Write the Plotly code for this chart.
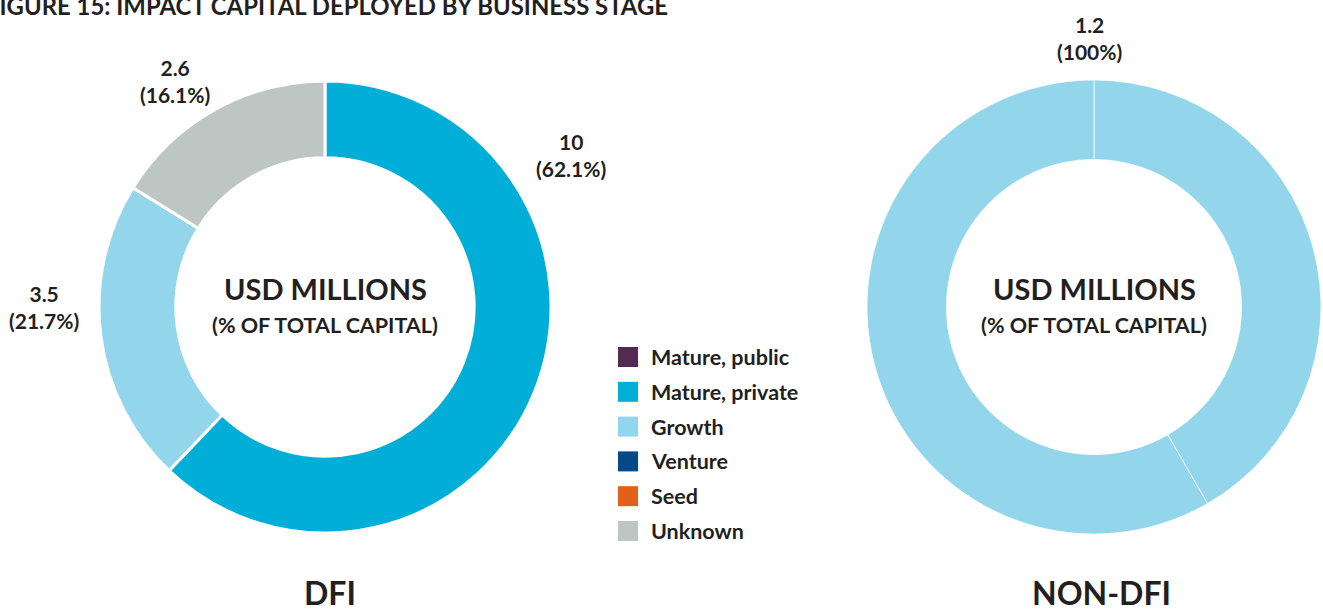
import plotly.graph_objects as go

W, H = 1323, 610

# ---- data ----
categories = ["Mature, public", "Mature, private", "Growth", "Venture", "Seed", "Unknown"]
dfi_values = [0, 10, 3.5, 0, 0, 2.6]
nondfi_growth_parts = [0.5, 0.7]   # two Growth entries (seam visible in the ring)
nondfi_total = 1.2
colors = ["#532a52", "#00aed8", "#93d6eb", "#034a86", "#e2601a", "#bec6c3"]
panel_titles = ["DFI", "NON-DFI"]
title_text = "FIGURE 15: IMPACT CAPITAL DEPLOYED BY BUSINESS STAGE"
center_main = "USD MILLIONS"
center_sub = "(% OF TOTAL CAPITAL)"

FONT = "Lato"
TXT = "#231f20"


def px(x):
    return x / W


def py(y):
    return 1 - y / H


fig = go.Figure()

# DFI donut
fig.add_trace(go.Pie(
    labels=categories, values=dfi_values, sort=False, direction="clockwise",
    rotation=0, hole=0.66, textinfo="none", hoverinfo="label+value+percent",
    marker=dict(colors=colors, line=dict(color="white", width=3)),
    domain=dict(x=[px(325 - 226), px(325 + 226)], y=[py(533), py(81)]),
    showlegend=False,
))

# NON-DFI donut (all Growth)
growth_color = colors[categories.index("Growth")]
fig.add_trace(go.Pie(
    values=nondfi_growth_parts, label0=0, dlabel=1, sort=False, direction="clockwise",
    rotation=0, hole=0.65, textinfo="none", hoverinfo="value",
    marker=dict(colors=[growth_color] * len(nondfi_growth_parts),
                line=dict(color="rgba(255,255,255,0.7)", width=1)),
    domain=dict(x=[px(1094 - 227), px(1094 + 227)], y=[py(534), py(80)]),
    showlegend=False,
))

ann = []


def add_text(x, y, text, size, xanchor="center", family=FONT):
    ann.append(dict(x=px(x), y=py(y), xref="paper", yref="paper", text=text,
                    showarrow=False, xanchor=xanchor, yanchor="middle",
                    font=dict(family=family, size=size, color=TXT)))


# title (left edge cropped as in the source)
add_text(670, 5, "<b>" + title_text + "</b>", 23.9, xanchor="right")

# center texts
for cx in (325, 1094):
    add_text(cx, 288, "<b>" + center_main + "</b>", 29)
    add_text(cx, 325, "<b>" + center_sub + "</b>", 21.5)

# value labels
total_dfi = sum(dfi_values)
label_pos = {"Mature, private": (571, 155), "Unknown": (175, 81), "Growth": (44, 307)}
for cat, (lx, ly) in label_pos.items():
    v = dfi_values[categories.index(cat)]
    pct = v / total_dfi * 100
    add_text(lx, ly, "<b>%s<br>(%.1f%%)</b>" % (("%g" % v), pct), 21)
add_text(1089, 38, "<b>%g<br>(%d%%)</b>" % (nondfi_total, 100), 21)

# panel titles
add_text(330, 592, "<b>" + panel_titles[0] + "</b>", 32)
add_text(1101, 592, "<b>" + panel_titles[1] + "</b>", 32)

# custom legend
shapes = []
for i, (cat, col) in enumerate(zip(categories, colors)):
    cy = 357 + i * 34.8
    shapes.append(dict(type="rect", xref="paper", yref="paper",
                       x0=px(618), x1=px(638), y0=py(cy + 10), y1=py(cy - 10),
                       fillcolor=col, line=dict(width=0)))
    add_text(649, cy, "<b>" + cat + "</b>", 21.5, xanchor="left")

fig.update_layout(
    width=W, height=H, margin=dict(l=0, r=0, t=0, b=0),
    paper_bgcolor="white", plot_bgcolor="white",
    annotations=ann, shapes=shapes, showlegend=False,
    font=dict(family=FONT, color=TXT),
)

fig.write_html("out.html", config={"displayModeBar": False},
               post_script="document.body.style.margin='0';")
